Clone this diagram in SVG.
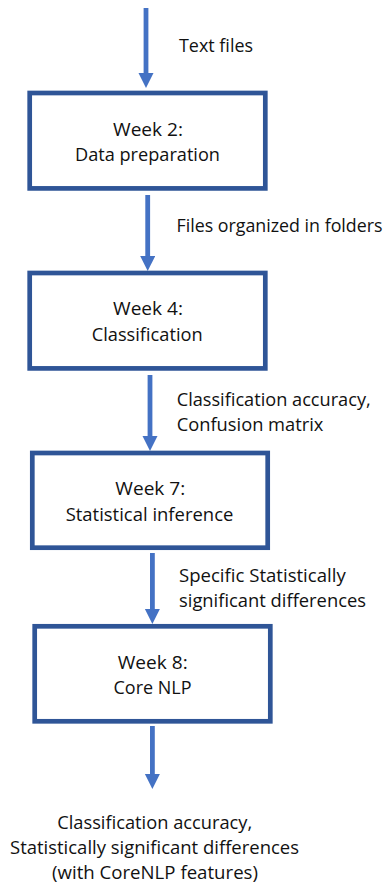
<svg xmlns="http://www.w3.org/2000/svg" width="391" height="886" viewBox="0 0 391 886">
<style>
.box{fill:#ffffff;stroke:#2F5597;stroke-width:4.7}
.conn{stroke:#4472C4;stroke-width:4.8;fill:none}
text{font-family:"Open Sans","Noto Sans","Liberation Sans",sans-serif;font-size:19px;fill:#111111}
.c{text-anchor:middle}
.o{font-size:18.5px}
.s{font-size:17.5px}
</style>
<defs>
<marker id="ah" markerUnits="userSpaceOnUse" markerWidth="16" markerHeight="16" refX="0" refY="7.5" orient="auto" viewBox="0 0 16 16">
<path d="M0,0 L15,7.5 L0,15 z" fill="#4472C4"/>
</marker>
</defs>
<g id="connectors">
<line class="conn" x1="146" y1="8" x2="146" y2="73" marker-end="url(#ah)"/>
<line class="conn" x1="147.7" y1="195" x2="147.7" y2="256" marker-end="url(#ah)"/>
<line class="conn" x1="150" y1="375" x2="150" y2="436" marker-end="url(#ah)"/>
<line class="conn" x1="152.4" y1="553" x2="152.4" y2="609" marker-end="url(#ah)"/>
<line class="conn" x1="152.4" y1="726" x2="152.4" y2="774" marker-end="url(#ah)"/>
<text x="179" y="52" textLength="74" lengthAdjust="spacingAndGlyphs">Text files</text>
<text class="s" x="176.5" y="232" textLength="206" lengthAdjust="spacingAndGlyphs">Files organized in folders</text>
<text x="176.7" y="405.7" textLength="194" lengthAdjust="spacingAndGlyphs">Classification accuracy,</text>
<text x="176.7" y="430.7" textLength="146.7" lengthAdjust="spacingAndGlyphs">Confusion matrix</text>
<text x="179" y="582.3" textLength="166.7" lengthAdjust="spacingAndGlyphs">Specific Statistically</text>
<text x="179" y="606.7" textLength="187" lengthAdjust="spacingAndGlyphs">significant differences</text>
</g>
<g id="week2">
<rect class="box" x="29.7" y="93" width="235.6" height="95.4"/>
<text class="c" x="148" y="136" textLength="70" lengthAdjust="spacingAndGlyphs">Week 2:</text>
<text class="c" x="147.5" y="161" textLength="145" lengthAdjust="spacingAndGlyphs">Data preparation</text>
</g>
<g id="week4">
<rect class="box" x="29.7" y="273" width="235.6" height="95.4"/>
<text class="c" x="148" y="315" textLength="70" lengthAdjust="spacingAndGlyphs">Week 4:</text>
<text class="c" x="147.2" y="341" textLength="111" lengthAdjust="spacingAndGlyphs">Classification</text>
</g>
<g id="week7">
<rect class="box" x="32.3" y="453" width="235.4" height="94.7"/>
<text class="c" x="150.3" y="495" textLength="70" lengthAdjust="spacingAndGlyphs">Week 7:</text>
<text class="c" x="149.5" y="521" textLength="167.7" lengthAdjust="spacingAndGlyphs">Statistical inference</text>
</g>
<g id="week8">
<rect class="box" x="34.7" y="626.3" width="235.6" height="95"/>
<text class="c" x="152.7" y="669.3" textLength="70" lengthAdjust="spacingAndGlyphs">Week 8:</text>
<text class="c" x="152.5" y="694.3" textLength="78" lengthAdjust="spacingAndGlyphs">Core NLP</text>
</g>
<g id="output">
<text class="c o" x="154.7" y="829.3" textLength="195" lengthAdjust="spacingAndGlyphs">Classification accuracy,</text>
<text class="c o" x="154.5" y="854" textLength="289" lengthAdjust="spacingAndGlyphs">Statistically significant differences</text>
<text class="c o" x="155" y="878.5" textLength="206" lengthAdjust="spacingAndGlyphs">(with CoreNLP features)</text>
</g>
</svg>
